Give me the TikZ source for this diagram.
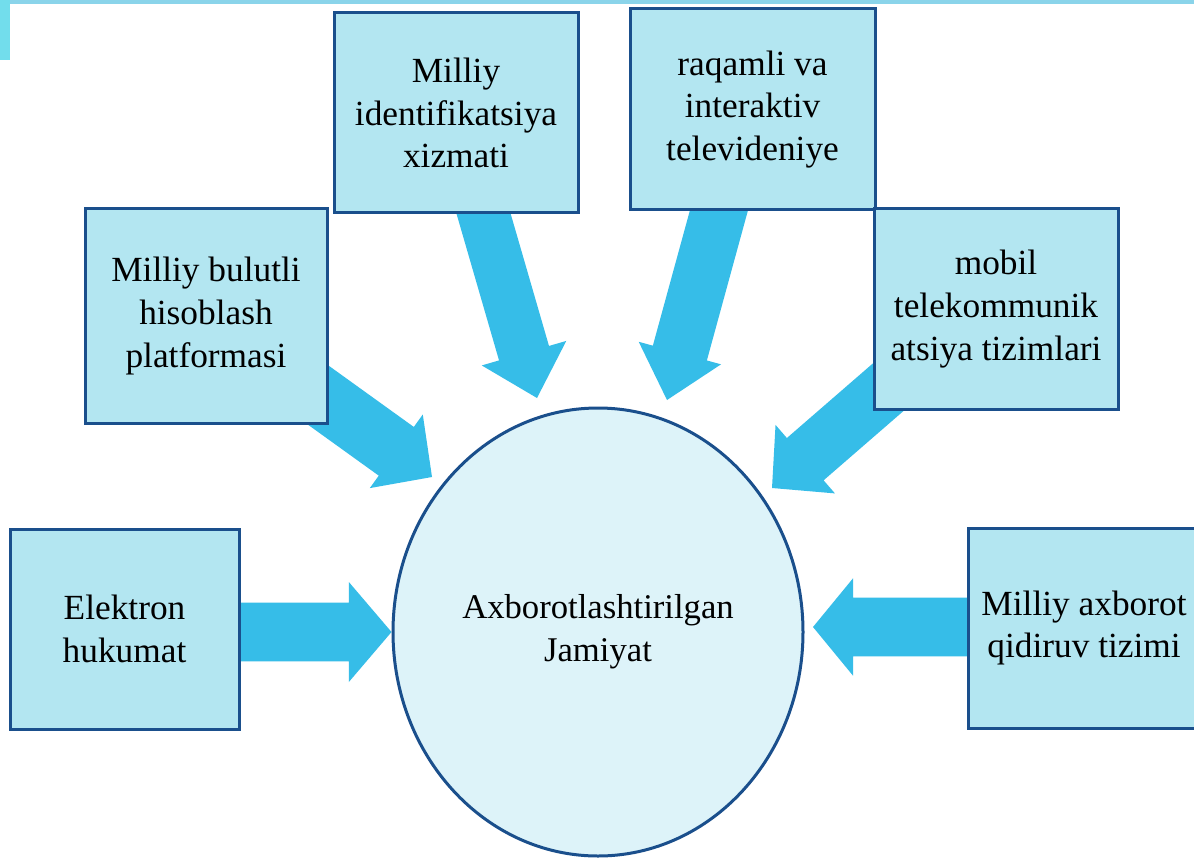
\documentclass[tikz,border=0pt]{standalone}
\usepackage{fontspec}
\setmainfont{Liberation Serif}
\usetikzlibrary{calc,shapes.geometric}
\definecolor{boxfill}{HTML}{B3E6F1}
\definecolor{boxline}{HTML}{1A4F8C}
\definecolor{arrowc}{HTML}{36BDE8}
\definecolor{circfill}{HTML}{DDF3F9}
\definecolor{bandc}{HTML}{8AD4EA}
\definecolor{stripc}{HTML}{72DDEC}
\pgfdeclarelayer{bg}
\pgfsetlayers{bg,main}
% #1 start, #2 tip, #3 half shaft, #4 half head, #5 head length
\newcommand{\blockarrow}[5]{%
  \coordinate (hb) at ($(#2)!#5!(#1)$);
  \fill[arrowc] ($(#1)!#3!90:(#2)$) -- ($(hb)!#3!90:(#2)$) -- ($(hb)!#4!90:(#2)$)
    -- (#2) -- ($(hb)!#4!-90:(#2)$) -- ($(hb)!#3!-90:(#2)$) -- ($(#1)!#3!-90:(#2)$) -- cycle;}
\tikzset{
  box/.style={draw=boxline, line width=2.25pt, fill=boxfill, align=center, inner sep=2pt,
    font=\fontsize{26.5}{32}\selectfont},
  hub/.style={ellipse, draw=boxline, line width=2.25pt, fill=circfill, align=center,
    font=\fontsize{26}{32}\selectfont, minimum width=307.5pt, minimum height=336pt}
}
\begin{document}
\begin{tikzpicture}[x=0.75pt,y=-0.75pt]
\useasboundingbox (0,0) rectangle (1194,859);

% central ellipse
\node[hub] (c) at (598,632) {Axborotlashtirilgan\\Jamiyat};

% boxes
\node[box, minimum width=183pt, minimum height=150pt] (bid) at (456,113) {Milliy\\identifikatsiya\\xizmati};
\node[box, minimum width=183.75pt, minimum height=150.75pt] (braq) at (752.5,109.5) {raqamli va\\interaktiv\\televideniye};
\node[box, minimum width=181.5pt, minimum height=160.5pt] (bbul) at (206,316) {Milliy bulutli\\hisoblash\\platformasi};
\node[box, minimum width=183pt, minimum height=150pt] (bmob) at (996,309) {mobil\\telekommunik\\atsiya tizimlari};
\node[box, minimum width=171.75pt, minimum height=150pt] (belek) at (124.5,629) {Elektron\\hukumat};
\node[box, minimum width=174pt, minimum height=150pt] (bqid) at (1084,628) {Milliy axborot\\qidiruv tizimi};

% arrow end points
\coordinate (sL) at (200,632);   \coordinate (tL) at (c.west);
\coordinate (sR) at (1000,627);  \coordinate (tR) at (813,627);
\coordinate (sB) at (300,382);   \coordinate (tB) at (432,477);
\coordinate (sI) at (468,160);   \coordinate (tI) at (537,398);
\coordinate (sQ) at (733,159);   \coordinate (tQ) at (667,400);
\coordinate (sM) at (923,357);   \coordinate (tM) at (772,488);

\begin{pgfonlayer}{bg}
\fill[white] (0,0) rectangle (1194,859);
% template swoosh
\fill[bandc] (0,0) rectangle (1194,4);
\fill[stripc] (0,0) rectangle (10,60);
\blockarrow{sL}{tL}{22pt}{37.5pt}{32pt}
\blockarrow{sR}{tR}{22pt}{36.5pt}{30pt}
\blockarrow{sB}{tB}{22.5pt}{34pt}{33pt}
\blockarrow{sI}{tI}{19.5pt}{33pt}{35pt}
\blockarrow{sQ}{tQ}{21pt}{32pt}{36.5pt}
\blockarrow{sM}{tM}{21pt}{34pt}{33pt}
\end{pgfonlayer}
\end{tikzpicture}
\end{document}
